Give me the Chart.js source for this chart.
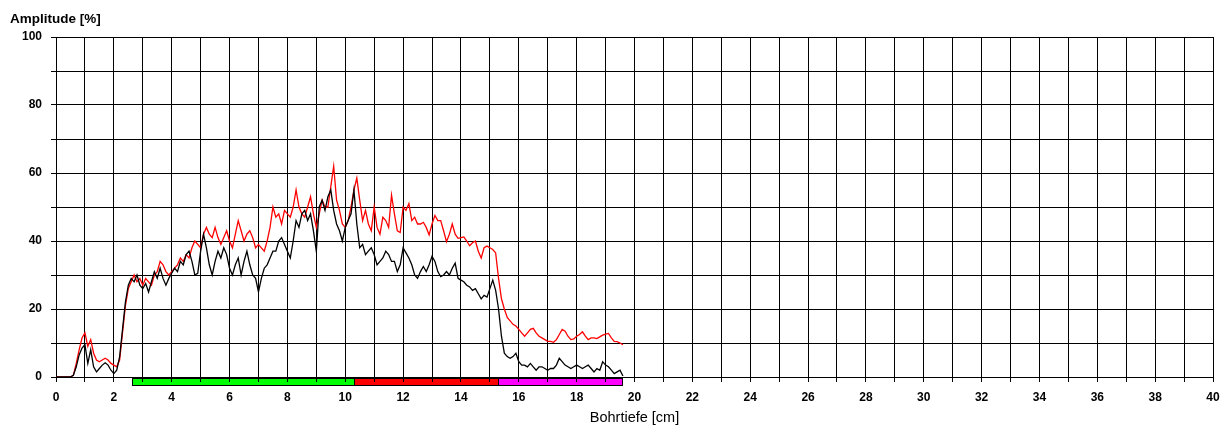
<!DOCTYPE html>
<html>
<head>
<meta charset="utf-8">
<script src="https://cdn.jsdelivr.net/npm/chart.js@4/dist/chart.umd.min.js"></script>
<style>
  html, body { margin: 0; padding: 0; background: #ffffff; }
  #wrap { width: 1228px; height: 428px; }
</style>
</head>
<body>
<div id="wrap"><canvas id="c" width="1228" height="428"></canvas></div>
<script>
// ---- data ----
const depthCm = [
  0.0,0.1,0.2,0.3,0.4,0.5,0.6,0.7,0.8,0.9,
  1.0,1.1,1.2,1.3,1.4,1.5,1.6,1.7,1.8,1.9,
  2.0,2.1,2.2,2.3,2.4,2.5,2.6,2.7,2.8,2.9,
  3.0,3.1,3.2,3.3,3.4,3.5,3.6,3.7,3.8,3.9,
  4.0,4.1,4.2,4.3,4.4,4.5,4.6,4.7,4.8,4.9,
  5.0,5.1,5.2,5.3,5.4,5.5,5.6,5.7,5.8,5.9,
  6.0,6.1,6.2,6.3,6.4,6.5,6.6,6.7,6.8,6.9,
  7.0,7.1,7.2,7.3,7.4,7.5,7.6,7.7,7.8,7.9,
  8.0,8.1,8.2,8.3,8.4,8.5,8.6,8.7,8.8,8.9,
  9.0,9.1,9.2,9.3,9.4,9.5,9.6,9.7,9.8,9.9,
  10.0,10.1,10.2,10.3,10.4,10.5,10.6,10.7,10.8,10.9,
  11.0,11.1,11.2,11.3,11.4,11.5,11.6,11.7,11.8,11.9,
  12.0,12.1,12.2,12.3,12.4,12.5,12.6,12.7,12.8,12.9,
  13.0,13.1,13.2,13.3,13.4,13.5,13.6,13.7,13.8,13.9,
  14.0,14.1,14.2,14.3,14.4,14.5,14.6,14.7,14.8,14.9,
  15.0,15.1,15.2,15.3,15.4,15.5,15.6,15.7,15.8,15.9,
  16.0,16.1,16.2,16.3,16.4,16.5,16.6,16.7,16.8,16.9,
  17.0,17.1,17.2,17.3,17.4,17.5,17.6,17.7,17.8,17.9,
  18.0,18.1,18.2,18.3,18.4,18.5,18.6,18.7,18.8,18.9,
  19.0,19.1,19.2,19.3,19.4,19.5,19.6
];

const amplitudeBlack = [
  0,0,0,0,0,0,0.5,3,6.5,8.5,
  9.5,4,8,3,1.5,2.5,3.5,4.2,3.5,2,
  1,2,6,14,22,27,29,28,30,27,
  26,27.5,25,28,31,29,32,29,27,29,
  30.5,32,31,34,33,36,37,34,30,30.5,
  37,42,38,33,30,34,37,35,38,36,
  32,30,33,35,30,34,37,33,30,29,
  25,29,32,33,35,37,37,40,41,39,
  37,35,40,46,44,48,49,46,48,43,
  37,50,52,49,53,55,49,45,43,40,
  44,46,48,55,45,38,39,36,37,38,
  36,33,34,35,37,36,34,34,31,33,
  38,36.5,35,33,30,29,31,32.5,31,33,
  35.5,34,31,29.5,30,31,30,32,33.5,29,
  28.5,28,27,26.5,25.5,26,24.5,23,24,23.5,
  26,28.5,25.5,20,12,7,6,5.5,6,7,
  4.5,3.5,3.5,3,4,3,2,3,3,2.5,
  2,2.5,2.5,3.5,5.5,4.5,3.5,3,2.5,3,
  3.5,3,2.5,3,3.5,2.5,1.5,2.5,2,4.5,
  3.5,3,2,1,1.5,2,0.3
];

const amplitudeRed = [
  0,0,0,0,0,0,0.5,4,8,11.5,
  13,9,11,7,5,4.5,5,5.5,5,4,
  3.5,3,5,13,21,26,28,30,28,29,
  27,29,28,27,30,31,34,33,31,30,
  31,32,33,35,34,36,35,38,40,39,
  38,42,44,42,41,44,41,39,41,43,
  40,38,42,46,43,40,42,43,41,38,
  39,38,37,40,44,50,47,48,45,49,
  48,47,50,55,50,48,47,50,53,48,
  44,48,52,50,50,56,62,52,49,45,
  44,46,50,55,58.5,52,46,49,45,43,
  50,44,42,47,46,44,53.5,48,43,42.5,
  50,49,51,46,47,45,45,45.5,44,41.8,
  45,47.5,46,46,43,39.8,42,45,42,40.8,
  41,41.2,40,38.6,39.5,40,37,35,38,38.5,
  38,37.5,36.5,29,23,20,17.5,16.5,15.5,15,
  14,13,12,13,14,14.3,13,12,11.5,11,
  10.5,10.5,10.2,11,12.5,14,13.5,12,11,11.2,
  12,12.5,13.3,12,11,11.5,11.5,11.3,11.8,12.3,
  12.6,12.8,11.5,10.5,10.4,10,9.5
];

// zone bar below the axis (depth ranges in cm)
const zoneStart = [2.63, 10.3, 15.28];
const zoneEnd   = [10.3, 15.28, 19.57];
const zoneColor = ['#00ff00', '#ff0000', '#ff00ff'];

const xTickLabelEvery = 2;   // cm
const yTickLabelEvery = 20;  // %

// ---- build ----
const blackPts = depthCm.map((d, i) => ({ x: d, y: amplitudeBlack[i] }));
const redPts = depthCm.map((d, i) => ({ x: d, y: amplitudeRed[i] }));

const zonePlugin = {
  id: 'zones',
  beforeDraw(chart) {
    const ctx = chart.ctx;
    const xs = chart.scales.x;
    const top = chart.chartArea.bottom + 1;
    const h = 7;
    ctx.save();
    for (let i = 0; i < zoneStart.length; i++) {
      const x0 = Math.round(xs.getPixelForValue(zoneStart[i]));
      const x1 = Math.round(xs.getPixelForValue(zoneEnd[i]));
      ctx.fillStyle = zoneColor[i];
      ctx.fillRect(x0, top, x1 - x0, h);
      ctx.strokeStyle = '#000';
      ctx.lineWidth = 1;
      ctx.strokeRect(x0 + 0.5, top + 0.5, x1 - x0, h);
    }
    ctx.restore();
  }
};

const yTitlePlugin = {
  id: 'ytitle',
  afterDraw(chart) {
    const ctx = chart.ctx;
    ctx.save();
    ctx.font = 'bold 13.5px "Liberation Sans", Arial, sans-serif';
    ctx.fillStyle = '#000';
    ctx.textBaseline = 'middle';
    ctx.textAlign = 'left';
    ctx.fillText('Amplitude [%]', 10, 19);
    ctx.restore();
  }
};

new Chart(document.getElementById('c'), {
  type: 'line',
  data: {
    datasets: [
      { data: blackPts, borderColor: '#000000', borderWidth: 1.3, pointRadius: 0, tension: 0, fill: false },
      { data: redPts, borderColor: '#ff0000', borderWidth: 1.3, pointRadius: 0, tension: 0, fill: false }
    ]
  },
  options: {
    responsive: false,
    animation: false,
    devicePixelRatio: 1,
    layout: { padding: { top: 37, right: 15, left: 0, bottom: 0 } },
    plugins: { legend: { display: false }, tooltip: { enabled: false } },
    scales: {
      x: {
        type: 'linear', min: 0, max: 40,
        afterFit: s => { s.height = 51; },
        grid: { color: '#000', lineWidth: 1, tickLength: 5, drawTicks: true },
        border: { color: '#000', width: 1 },
        ticks: {
          stepSize: 1, autoSkip: false, maxRotation: 0, padding: 8,
          color: '#000',
          font: { family: '"Liberation Sans", Arial, sans-serif', size: 12, weight: 'bold' },
          callback: v => (v % xTickLabelEvery === 0 ? String(v) : '')
        },
        title: {
          display: true, text: 'Bohrtiefe [cm]', color: '#000',
          font: { family: '"Liberation Sans", Arial, sans-serif', size: 14.5 },
          padding: { top: 0, bottom: 1 }
        }
      },
      y: {
        type: 'linear', min: 0, max: 100,
        afterFit: s => { s.width = 56; },
        grid: { color: '#000', lineWidth: 1, tickLength: 5, drawTicks: true },
        border: { color: '#000', width: 1 },
        ticks: {
          stepSize: 10, autoSkip: false, padding: 9,
          color: '#000',
          font: { family: '"Liberation Sans", Arial, sans-serif', size: 12, weight: 'bold' },
          callback: v => (v % yTickLabelEvery === 0 ? String(v) : '')
        }
      }
    }
  },
  plugins: [zonePlugin, yTitlePlugin]
});
</script>
</body>
</html>
